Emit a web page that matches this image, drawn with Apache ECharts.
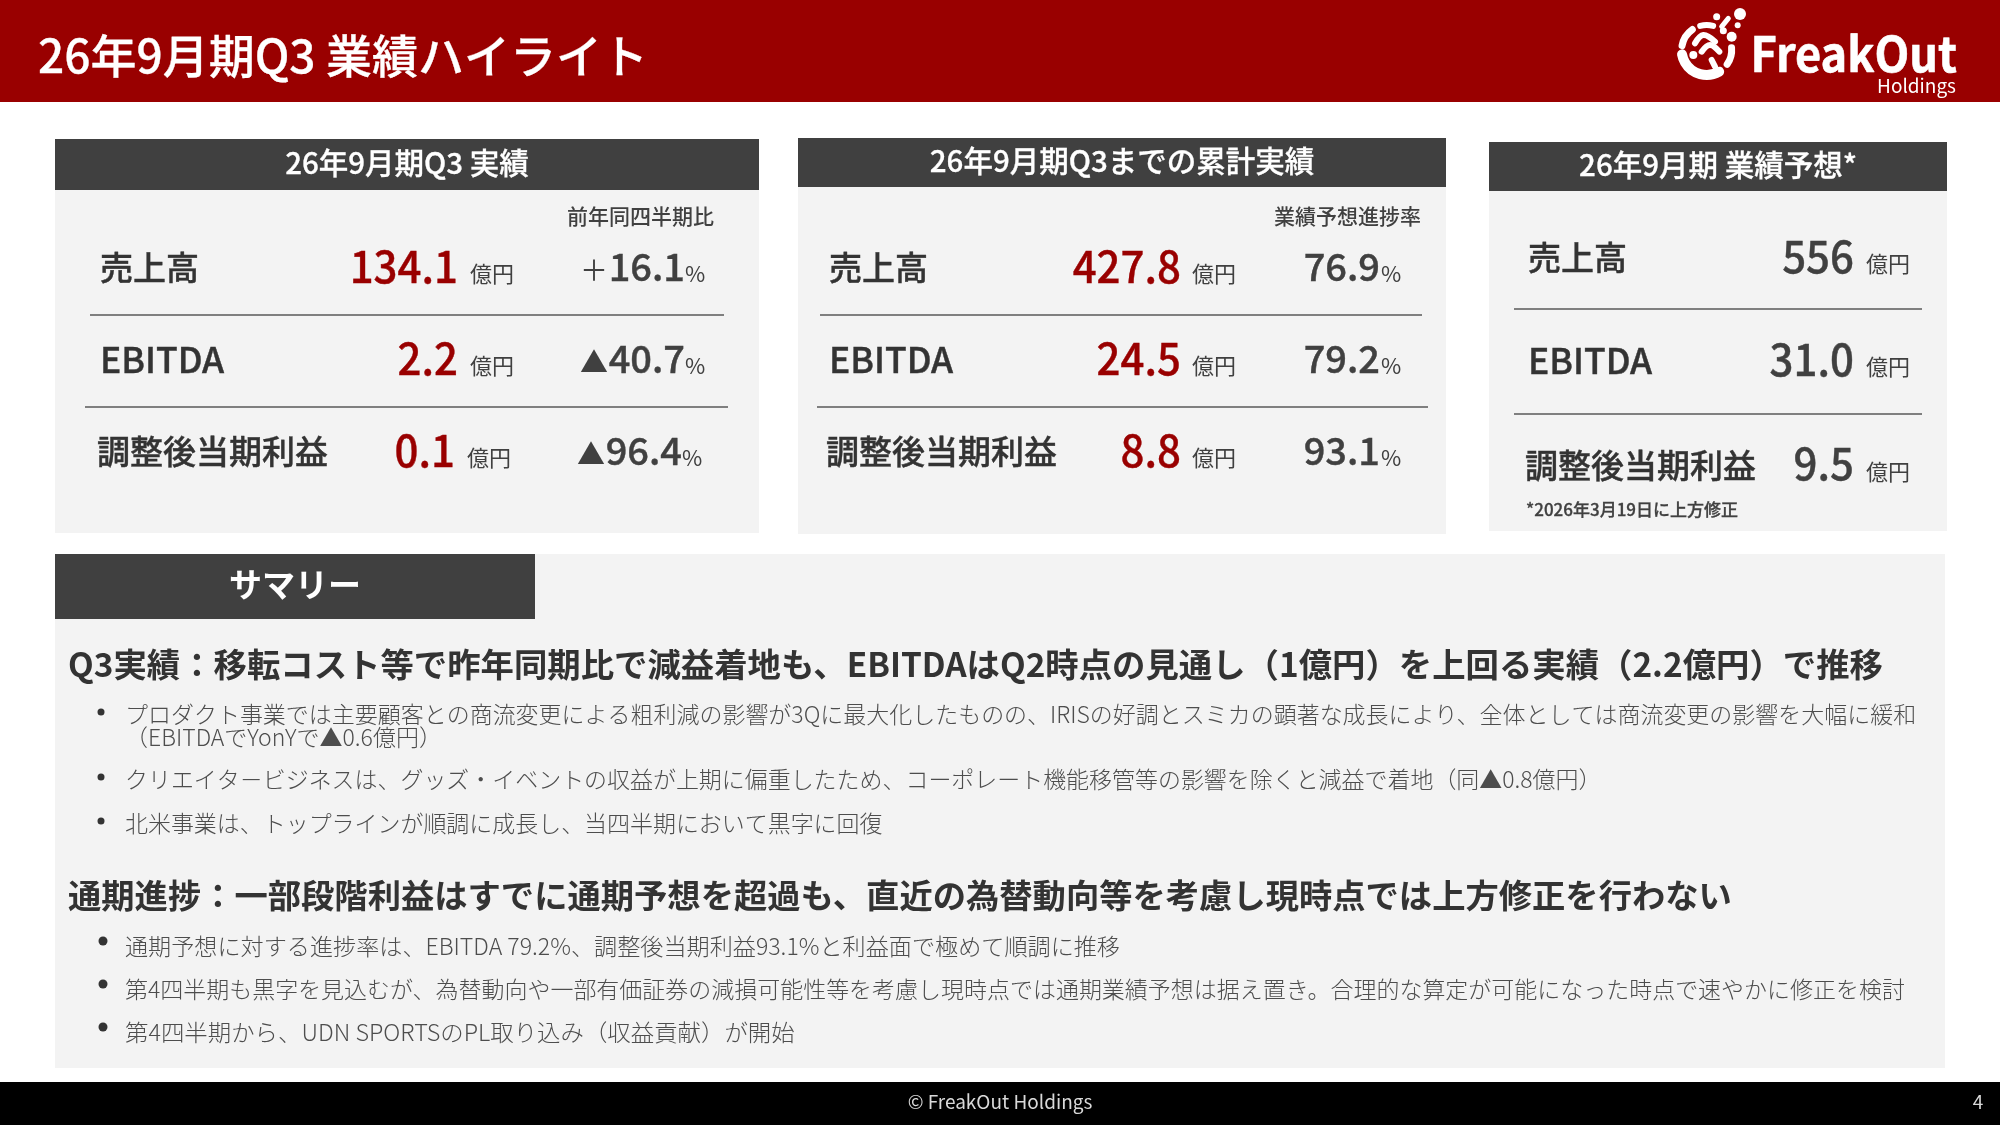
<!DOCTYPE html>
<html>
<head>
<meta charset="utf-8">
<title>26年9月期Q3 業績ハイライト</title>
<script src="https://cdn.jsdelivr.net/npm/echarts@6/dist/echarts.min.js"></script>
<style>
  html, body { margin: 0; padding: 0; background: #fff; }
  #main { width: 2000px; height: 1125px; }
</style>
</head>
<body>
<div id="main"></div>
<script>
// 指標
var metricLabels = ['売上高', 'EBITDA', '調整後当期利益'];
var q3Values = ['134.1', '2.2', '0.1'];
var q3YoyMarks = ['＋', '▲', '▲'];
var q3Yoy = ['16.1', '40.7', '96.4'];
var cumValues = ['427.8', '24.5', '8.8'];
var cumProgress = ['76.9', '79.2', '93.1'];
var forecastValues = ['556', '31.0', '9.5'];

var pageTitle = '26年9月期Q3 業績ハイライト';
var panelTitles = ['26年9月期Q3 実績', '26年9月期Q3までの累計実績', '26年9月期 業績予想*'];
var subTitles = ['前年同四半期比', '業績予想進捗率'];
var forecastNote = '*2026年3月19日に上方修正';

var summaryTitle = 'サマリー';
var heading1 = 'Q3実績：移転コスト等で昨年同期比で減益着地も、EBITDAはQ2時点の見通し（1億円）を上回る実績（2.2億円）で推移';
var bullets1 = [
  'プロダクト事業では主要顧客との商流変更による粗利減の影響が3Qに最大化したものの、IRISの好調とスミカの顕著な成長により、全体としては商流変更の影響を大幅に緩和',
  '（EBITDAでYonYで▲0.6億円）',
  'クリエイタ－ビジネスは、グッズ・イベントの収益が上期に偏重したため、コーポレート機能移管等の影響を除くと減益で着地（同▲0.8億円）',
  '北米事業は、トップラインが順調に成長し、当四半期において黒字に回復'
];
var heading2 = '通期進捗：一部段階利益はすでに通期予想を超過も、直近の為替動向等を考慮し現時点では上方修正を行わない';
var bullets2 = [
  '通期予想に対する進捗率は、EBITDA 79.2%、調整後当期利益93.1%と利益面で極めて順調に推移',
  '第4四半期も黒字を見込むが、為替動向や一部有価証券の減損可能性等を考慮し現時点では通期業績予想は据え置き。合理的な算定が可能になった時点で速やかに修正を検討',
  '第4四半期から、UDN SPORTSのPL取り込み（収益貢献）が開始'
];
var footerText = '© FreakOut Holdings';
var pageNo = '4';

var FONT = '"Noto Sans CJK JP"';
var RED = '#990000';
var DARK = '#404040';
var PANEL = '#f3f3f3';
var LINE = '#7f7f7f';
var BODY = '#4d4d4d';

var els = [];

function rect(x, y, w, h, fill) {
  els.push({ type: 'rect', shape: { x: x, y: y, width: w, height: h }, style: { fill: fill }, silent: true });
}
function hline(x1, x2, y) {
  rect(x1, y - 1, x2 - x1, 2, LINE);
}
function dot(x, y, r, fill) {
  els.push({ type: 'circle', shape: { cx: x, cy: y, r: r }, style: { fill: fill }, silent: true });
}
// opt: align, stroke(太さの調整), sx(横倍率)
function text(str, x, y, size, weight, fill, opt) {
  opt = opt || {};
  els.push({
    type: 'text',
    silent: true,
    x: x,
    y: y,
    scaleX: opt.sx || 1,
    style: {
      text: str, x: 0, y: 0, fill: fill,
      font: weight + ' ' + size + 'px ' + FONT,
      align: opt.align || 'left', verticalAlign: 'middle',
      stroke: opt.stroke ? fill : null,
      lineWidth: opt.stroke || 0
    }
  });
}

// ヘッダー・フッター
rect(0, 0, 2000, 102, RED);
rect(0, 1082, 2000, 43, '#000');
text(pageTitle, 38, 56, 46, 500, '#fff', { stroke: 0.3 });
text(footerText, 1000, 1102, 19, 400, '#d9d9d9', { align: 'center' });
text(pageNo, 1978, 1102, 19, 400, '#d9d9d9', { align: 'center' });

// ロゴ（zx, zy はロゴ周辺の 3 倍表示での座標）
function lx(zx) { return 1660 + zx / 3; }
function ly(zy) { return zy / 3; }
function logoArc(a0, a1, w) {
  els.push({
    type: 'arc', silent: true,
    shape: { cx: lx(140), cy: ly(150), r: 25, startAngle: a0 * Math.PI / 180, endAngle: a1 * Math.PI / 180, clockwise: true },
    style: { stroke: '#fff', fill: null, lineWidth: w, lineCap: 'round' }
  });
}
function logoLine(pts, w) {
  els.push({
    type: 'polyline', silent: true,
    shape: { points: pts.map(function (p) { return [lx(p[0]), ly(p[1])]; }), smooth: 0.4 },
    style: { stroke: '#fff', fill: null, lineWidth: w, lineCap: 'round', lineJoin: 'round' }
  });
}
logoArc(60, 170, 10);
logoArc(190, 235, 7);
logoArc(255, 285, 6);
logoArc(-5, 35, 7);
logoLine([[105, 130], [130, 105], [165, 125]], 6);
logoLine([[125, 155], [150, 135], [178, 155]], 6);
logoLine([[155, 180], [165, 200]], 6);
logoLine([[205, 55], [185, 80]], 5);
[[100, 165, 4], [215, 110, 5], [170, 50, 3.5], [240, 42, 6], [233, 76, 3], [190, 92, 3.5]].forEach(function (d) {
  dot(lx(d[0]), ly(d[1]), d[2], '#fff');
});
text('FreakOut', 1957, 54, 48, 700, '#fff', { align: 'right', sx: 0.94, stroke: 0.6 });
text('Holdings', 1956, 86, 19, 400, '#fff', { align: 'right' });

// 上段パネル
function panel(x, w, headTop, headBottom, bottom, title) {
  rect(x, headBottom, w, bottom - headBottom, PANEL);
  rect(x, headTop, w, headBottom - headTop, DARK);
  text(title, x + w / 2, (headTop + headBottom) / 2 - 2, 29.5, 500, '#fff', { align: 'center', stroke: 0.3 });
}
function label(name, x, y) {
  var isLatin = name === 'EBITDA';
  text(name, x, isLatin ? y : y - 1, isLatin ? 35.5 : 33, 500, '#333', { stroke: 0.4 });
}
function value(str, x, y, fill) {
  text(str, x, y - 2, 44, 500, fill, { align: 'right', sx: 0.955, stroke: 0.4 });
}
function unit(x, y) {
  text('億円', x, y + 6, 22, 400, DARK);
}
function pct(str, x, y, gap) {
  text(str, x, y - 1, 38, 500, DARK, { align: 'right', stroke: 0.4 });
  text('%', x + gap, y + 6, 22, 400, DARK);
}

panel(55, 704, 139, 190, 533, panelTitles[0]);
text(subTitles[0], 714, 216, 21, 500, DARK, { align: 'right' });
hline(90, 724, 315);
hline(85, 728, 407);
var rowY = [268, 360, 452];
metricLabels.forEach(function (name, i) {
  var off = i === 2 ? -3 : 0;
  label(name, 100 + off, rowY[i]);
  value(q3Values[i], 458 + off, rowY[i], RED);
  unit(470 + off, rowY[i]);
  pct(q3Yoy[i], 685 + off, rowY[i], 0);
  text(q3YoyMarks[i], 608 + off, rowY[i] + 2, 28, 400, DARK, { align: 'right' });
});

panel(798, 648, 138, 187, 534, panelTitles[1]);
text(subTitles[1], 1421, 216, 21, 500, DARK, { align: 'right' });
hline(820, 1422, 315);
hline(817, 1428, 407);
metricLabels.forEach(function (name, i) {
  var off = i === 2 ? -3 : 0;
  label(name, 829 + off, rowY[i]);
  value(cumValues[i], 1181, rowY[i], RED);
  unit(1192, rowY[i]);
  pct(cumProgress[i], 1380, rowY[i], 1);
});

panel(1489, 458, 142, 191, 531, panelTitles[2]);
hline(1514, 1922, 309);
hline(1514, 1922, 414);
var fcY = [258, 361, 466];
metricLabels.forEach(function (name, i) {
  var off = i === 2 ? -3 : 0;
  label(name, 1528 + off, fcY[i]);
  value(forecastValues[i], 1854, i === 2 ? fcY[i] - 1 : fcY[i], DARK);
  unit(1866, fcY[i]);
});
text(forecastNote, 1526, 510, 17, 500, DARK, { stroke: 0.3 });

// サマリー
rect(55, 554, 1890, 514, PANEL);
rect(55, 554, 480, 65, DARK);
text(summaryTitle, 295, 584, 33, 700, '#fff', { align: 'center' });

text(heading1, 68, 664, 33.38, 700, '#333');
text(heading2, 68, 895, 33.3, 700, '#333');

var bulletY1 = [714, 737, 779, 823];
var bulletSx1 = [0.999, 1, 0.998, 0.998];
bullets1.forEach(function (s, i) {
  text(s, 125, bulletY1[i], 23, 300, BODY, { sx: bulletSx1[i] });
  if (i !== 1) dot(101, bulletY1[i] - 2, 3.5, '#333');
});
var bulletY2 = [946, 989, 1032];
var bulletSx2 = [1.005, 0.999, 1.018];
bullets2.forEach(function (s, i) {
  text(s, 125, bulletY2[i], 23, 300, BODY, { sx: bulletSx2[i] });
  dot(103, bulletY2[i] - 5, 4.5, '#333');
});

var chart = echarts.init(document.getElementById('main'), null, { renderer: 'canvas' });
chart.setOption({ animation: false, backgroundColor: '#fff', graphic: { elements: els } });
</script>
</body>
</html>
